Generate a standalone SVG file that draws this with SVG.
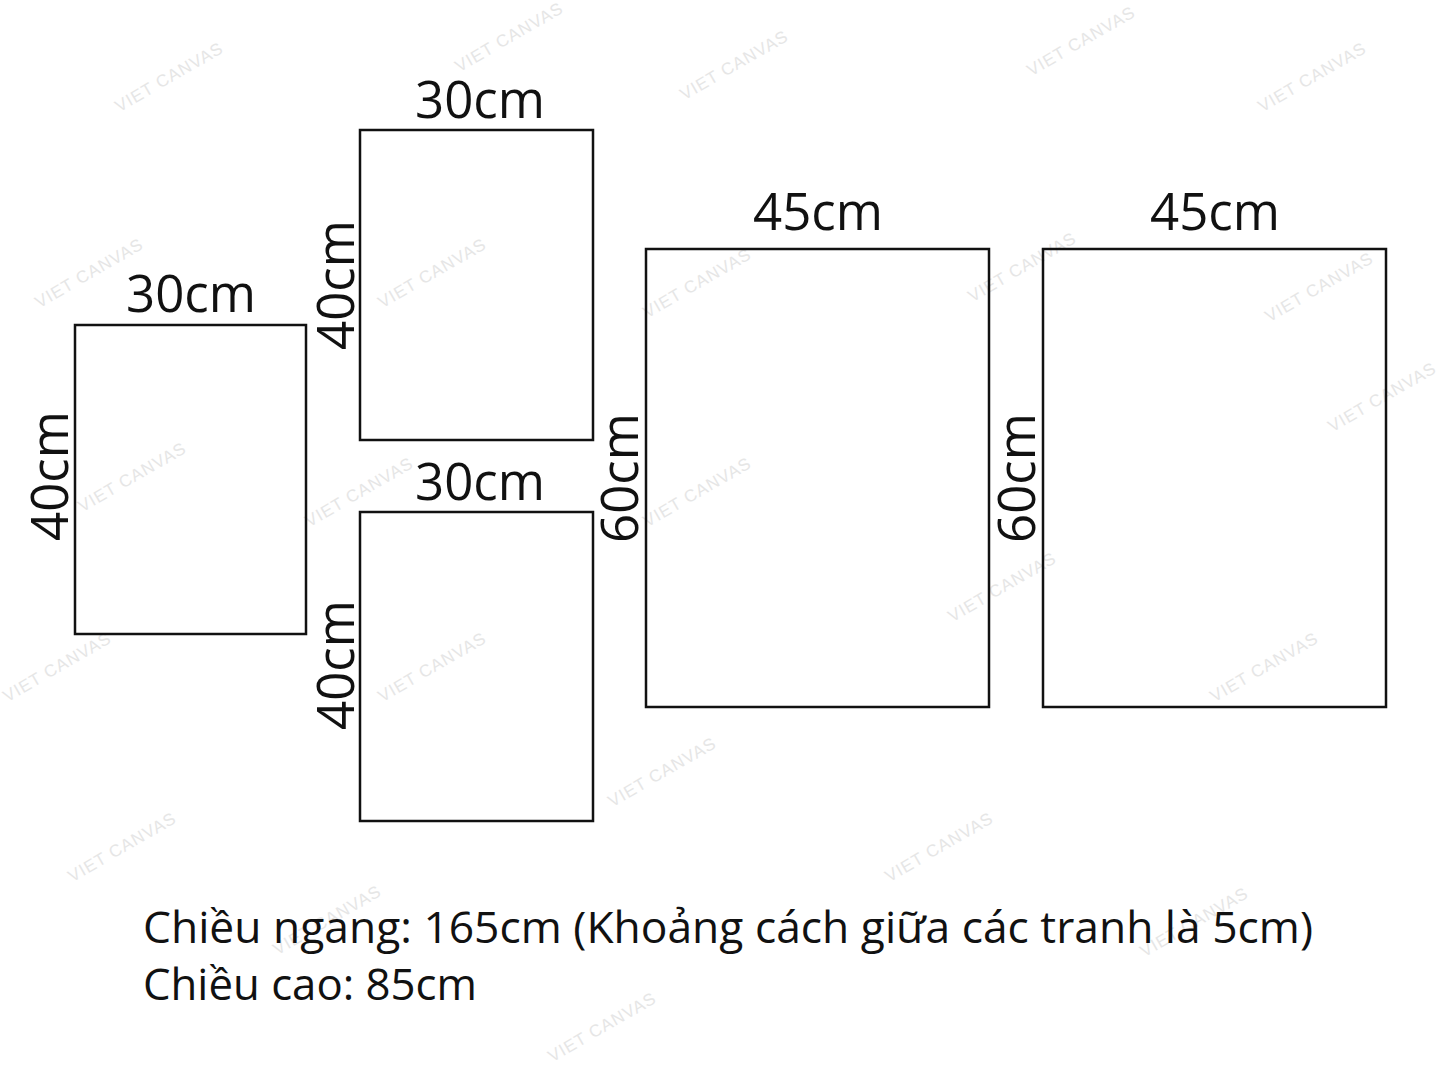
<svg xmlns="http://www.w3.org/2000/svg" width="1445" height="1084" viewBox="0 0 1445 1084">
<style>
.frame{fill:none;stroke:#111;stroke-width:2.5}
.lbl{font-family:"Open Sans","Noto Sans","Liberation Sans",sans-serif;font-size:51px;fill:#111;text-anchor:middle}
.note{font-family:"Open Sans","Noto Sans","Liberation Sans",sans-serif;font-size:43px;fill:#111}
.wm{font-family:"Liberation Sans",Arial,sans-serif;font-size:17px;fill:#e6e6e6;text-anchor:middle;letter-spacing:1px}
</style>
<rect width="1445" height="1084" fill="#fff"/>
<g id="watermarks">
<text class="wm" transform="translate(172,82) rotate(-30)">VIET CANVAS</text>
<text class="wm" transform="translate(512,42) rotate(-30)">VIET CANVAS</text>
<text class="wm" transform="translate(737,70) rotate(-30)">VIET CANVAS</text>
<text class="wm" transform="translate(1084,46) rotate(-30)">VIET CANVAS</text>
<text class="wm" transform="translate(1315,82) rotate(-30)">VIET CANVAS</text>
<text class="wm" transform="translate(92,278) rotate(-30)">VIET CANVAS</text>
<text class="wm" transform="translate(435,278) rotate(-30)">VIET CANVAS</text>
<text class="wm" transform="translate(700,288) rotate(-30)">VIET CANVAS</text>
<text class="wm" transform="translate(1025,272) rotate(-30)">VIET CANVAS</text>
<text class="wm" transform="translate(1322,292) rotate(-30)">VIET CANVAS</text>
<text class="wm" transform="translate(1385,402) rotate(-30)">VIET CANVAS</text>
<text class="wm" transform="translate(135,482) rotate(-30)">VIET CANVAS</text>
<text class="wm" transform="translate(362,497) rotate(-30)">VIET CANVAS</text>
<text class="wm" transform="translate(700,497) rotate(-30)">VIET CANVAS</text>
<text class="wm" transform="translate(1005,592) rotate(-30)">VIET CANVAS</text>
<text class="wm" transform="translate(60,672) rotate(-30)">VIET CANVAS</text>
<text class="wm" transform="translate(435,672) rotate(-30)">VIET CANVAS</text>
<text class="wm" transform="translate(1267,672) rotate(-30)">VIET CANVAS</text>
<text class="wm" transform="translate(665,777) rotate(-30)">VIET CANVAS</text>
<text class="wm" transform="translate(125,852) rotate(-30)">VIET CANVAS</text>
<text class="wm" transform="translate(942,852) rotate(-30)">VIET CANVAS</text>
<text class="wm" transform="translate(1197,927) rotate(-30)">VIET CANVAS</text>
<text class="wm" transform="translate(330,925) rotate(-30)">VIET CANVAS</text>
<text class="wm" transform="translate(605,1032) rotate(-30)">VIET CANVAS</text>
</g>
<g id="panel-a">
<rect class="frame" x="75" y="325" width="231" height="309"/>
<text class="lbl" x="191" y="312">30cm</text>
<text class="lbl" transform="translate(68,476) rotate(-90)">40cm</text>
</g>
<g id="panel-b">
<rect class="frame" x="360" y="130" width="233" height="310"/>
<text class="lbl" x="480" y="118">30cm</text>
<text class="lbl" transform="translate(354,285) rotate(-90)">40cm</text>
</g>
<g id="panel-c">
<rect class="frame" x="360" y="512" width="233" height="309"/>
<text class="lbl" x="480" y="500">30cm</text>
<text class="lbl" transform="translate(354,665) rotate(-90)">40cm</text>
</g>
<g id="panel-d">
<rect class="frame" x="646" y="249" width="343" height="458"/>
<text class="lbl" x="818" y="230">45cm</text>
<text class="lbl" transform="translate(638,478) rotate(-90)">60cm</text>
</g>
<g id="panel-e">
<rect class="frame" x="1043" y="249" width="343" height="458"/>
<text class="lbl" x="1215" y="230">45cm</text>
<text class="lbl" transform="translate(1035,478) rotate(-90)">60cm</text>
</g>
<g id="connectors"></g>
<g id="notes">
<text class="note" x="143" y="943" textLength="1170" lengthAdjust="spacingAndGlyphs">Chiều ngang: 165cm (Khoảng cách giữa các tranh là 5cm)</text>
<text class="note" x="143" y="1000" textLength="334" lengthAdjust="spacingAndGlyphs">Chiều cao: 85cm</text>
</g>
</svg>
